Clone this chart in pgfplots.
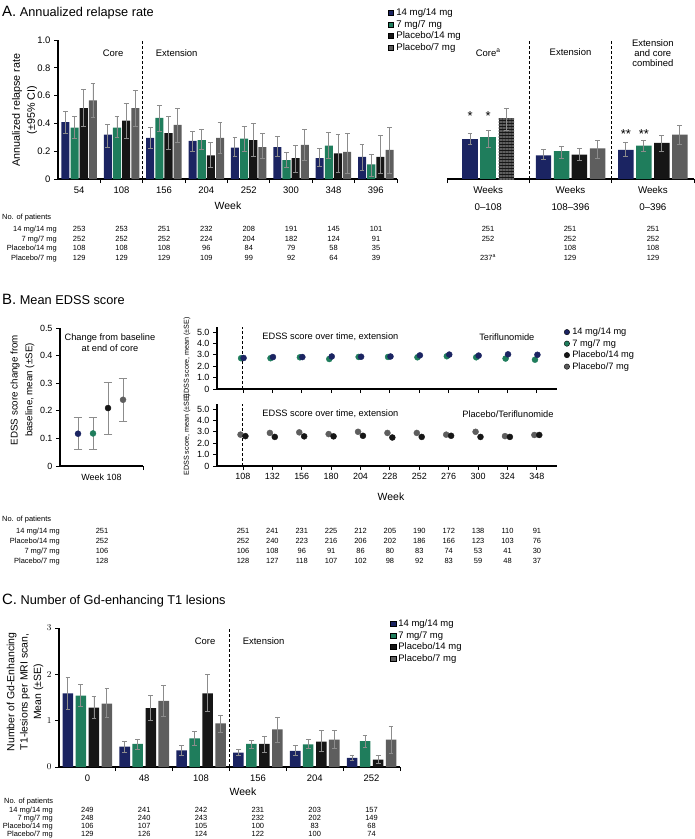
\documentclass[border=0pt]{standalone}
\usepackage{fontspec}
\setmainfont{Liberation Sans}
\usepackage{pgfplots}
\usepackage{pgfplotstable}
\pgfplotsset{compat=1.18}
\usetikzlibrary{patterns.meta}

\definecolor{c14}{HTML}{1B2462}
\definecolor{c7}{HTML}{1F7D5C}
\definecolor{cp14}{HTML}{161616}
\definecolor{cp7}{HTML}{5E5E5E}
\definecolor{errc}{HTML}{8C8C8C}

\newcommand{\fs}[1]{\fontsize{#1}{#1}\selectfont}
% one row of patient numbers: baseline y, first x, step, list
\newcommand{\trow}[4]{\foreach \v [count=\i] in {#4} {\node[anchor=base, font=\fs{7.5}, inner sep=0pt] at ({#2+#3*(\i-1)},-#1) {\v};}}

\pgfplotsset{
  base/.style={scale only axis, clip=false, tick pos=left,
    axis line style={line width=1.1pt},
    tick align=outside, major tick length=4bp, minor tick length=4bp,
    tick style={black, line width=0.9pt},
    tick label style={font=\fs{9.5}}},
  barp/.style={ybar, bar width=#1, bar shift=0pt, draw=none, forget plot,
    error bars/y dir=both, error bars/y explicit,
    error bars/error bar style={errc, line width=0.9pt},
    error bars/error mark options={errc, rotate=90, line width=0.9pt, mark size=2.4bp}},
  dot/.style={only marks, mark=*, mark size=3bp, forget plot, mark options={draw=#1, fill=#1}},
  dotp/.style={dot=#1,
    error bars/y dir=both, error bars/y explicit,
    error bars/error bar style={errc, line width=0.9pt},
    error bars/error mark options={errc, rotate=90, line width=0.9pt, mark size=4.3bp}},
  sqleg/.style={legend cell align=left,
    legend image code/.code={\fill[##1] (0bp,-2.6bp) rectangle (5.2bp,2.6bp);},
    legend style={draw=none, fill=none, inner sep=0pt, row sep=0pt, font=\fs{#1},
      nodes={inner sep=1bp, text height=7.3bp, text depth=2.2bp},
      /tikz/every odd column/.append style={column sep=1.5bp}}},
}

% A: annualized relapse rate by year (rate, CI low, CI high)
\pgfplotstableread{
x    b     bl    bh    g     gl    gh    k     kl    kh    p     pl    ph
0.5  0.41  0.33  0.485 0.37  0.29  0.45  0.51  0.38  0.645 0.565 0.44  0.69
1.5  0.32  0.23  0.39  0.37  0.30  0.45  0.42  0.29  0.54  0.51  0.38  0.635
2.5  0.295 0.22  0.37  0.44  0.34  0.53  0.33  0.21  0.45  0.39  0.26  0.505
3.5  0.275 0.20  0.345 0.28  0.21  0.36  0.17  0.08  0.26  0.295 0.185 0.405
4.5  0.225 0.16  0.30  0.29  0.20  0.375 0.28  0.16  0.40  0.23  0.15  0.33
5.5  0.23  0.16  0.305 0.135 0.08  0.19  0.15  0.05  0.24  0.245 0.13  0.355
6.5  0.15  0.09  0.22  0.24  0.15  0.335 0.185 0.05  0.32  0.195 0.04  0.325
7.5  0.16  0.06  0.25  0.105 0.02  0.18  0.16  0.04  0.31  0.21  0.04  0.37
}\arrA
% A right: core (pooled placebo), extension, combined
\pgfplotstableread{
x    b     bl    bh    g     gl    gh    k     kl    kh
0.5  0.29  0.25  0.33  0.30  0.23  0.35  0.44  0.35  0.51
}\arrCore
\pgfplotstableread{
x    b     bl    bh    g     gl    gh    k     kl    kh    p     pl    ph
1.5  0.17  0.14  0.21  0.20  0.15  0.235 0.175 0.13  0.22  0.22  0.15  0.28
2.5  0.21  0.16  0.265 0.24  0.20  0.275 0.26  0.20  0.31  0.32  0.25  0.385
}\arrExt
% B: EDSS over time
\pgfplotstableread{
w    b     g
108  2.72  2.70
132  2.80  2.70
156  2.80  2.78
180  2.85  2.63
204  2.83  2.81
228  2.85  2.81
252  2.95  2.78
276  3.02  2.87
300  2.93  2.78
324  3.04  2.67
348  3.00  2.57
}\edssT
\pgfplotstableread{
w    k     p
108  2.62  2.75
132  2.55  2.90
156  2.60  2.95
180  2.60  2.80
204  2.65  3.00
228  2.50  2.90
252  2.55  2.90
276  2.65  2.75
300  2.55  3.00
324  2.55  2.62
348  2.72  2.72
}\edssB
% C: Gd-enhancing lesions (mean, -SE, +SE)
\pgfplotstableread{
x    b     bl    bh    g     gl    gh    k     kl    kh    p     pl    ph
0.5  1.59  1.24  1.93  1.54  1.30  1.78  1.28  1.04  1.52  1.37  1.07  1.69
1.5  0.44  0.32  0.56  0.50  0.39  0.60  1.27  1.01  1.54  1.43  1.09  1.77
2.5  0.36  0.25  0.46  0.62  0.47  0.76  1.59  1.20  2.00  0.94  0.75  1.12
3.5  0.31  0.25  0.37  0.50  0.40  0.58  0.50  0.32  0.67  0.81  0.53  1.08
4.5  0.35  0.24  0.46  0.49  0.40  0.59  0.55  0.33  0.78  0.59  0.40  0.78
5.5  0.20  0.15  0.26  0.56  0.42  0.69  0.16  0.08  0.24  0.59  0.30  0.87
}\arrC

\begin{document}
\begin{tikzpicture}[x=1bp,y=1bp]
\path[use as bounding box] (0,0) rectangle (695,-839);

%% ---------------- A ----------------
\node[anchor=base west, inner sep=0pt] at (2,-16) {\fs{15}A.\fs{12.8} Annualized relapse rate};
\node[rotate=90, align=center, font=\fontsize{10.8}{15}\selectfont] at (24.5,-110) {Annualized relapse rate\\(±95\% CI)};

\begin{axis}[base, at={(58bp,-179bp)}, anchor=south west, width=339bp, height=139bp,
  axis x line*=bottom, axis y line*=left,
  xmin=0, xmax=8, ymin=0, ymax=1,
  xtick={0.5,1.5,...,7.5}, xticklabels={54,108,156,204,252,300,348,396},
  every major x tick/.append style={draw=none}, minor xtick={1,2,...,8},
  ytick={0,0.2,0.4,0.6,0.8,1}, yticklabels={0,0.2,0.4,0.6,0.8,1.0},
  sqleg=9.7, legend style={at={(0.9735,1.237)}, anchor=north west}]
\addplot[barp=0.19, fill=c14] table[x expr=\thisrow{x}-0.325, y=b, y error plus expr=\thisrow{bh}-\thisrow{b}, y error minus expr=\thisrow{b}-\thisrow{bl}] {\arrA};
\addplot[barp=0.19, fill=c7] table[x expr=\thisrow{x}-0.108, y=g, y error plus expr=\thisrow{gh}-\thisrow{g}, y error minus expr=\thisrow{g}-\thisrow{gl}] {\arrA};
\addplot[barp=0.19, fill=cp14] table[x expr=\thisrow{x}+0.108, y=k, y error plus expr=\thisrow{kh}-\thisrow{k}, y error minus expr=\thisrow{k}-\thisrow{kl}] {\arrA};
\addplot[barp=0.19, fill=cp7] table[x expr=\thisrow{x}+0.325, y=p, y error plus expr=\thisrow{ph}-\thisrow{p}, y error minus expr=\thisrow{p}-\thisrow{pl}] {\arrA};
\addlegendimage{fill=c14}\addlegendentry{14 mg/14 mg}
\addlegendimage{fill=c7}\addlegendentry{7 mg/7 mg}
\addlegendimage{fill=cp14}\addlegendentry{Placebo/14 mg}
\addlegendimage{fill=cp7}\addlegendentry{Placebo/7 mg}
\draw[line width=1pt, dash pattern=on 3bp off 2bp] (axis cs:2,0) -- (axis cs:2,1);
\node[font=\fs{9.5}] at (axis cs:1.3,0.906) {Core};
\node[font=\fs{9.5}] at (axis cs:2.8,0.906) {Extension};
\end{axis}

\begin{axis}[base, at={(447bp,-179bp)}, anchor=south west, width=247bp, height=139bp,
  axis x line*=bottom, axis y line=none, ytick=\empty,
  xmin=0, xmax=3, ymin=0, ymax=1,
  xtick={0.5,1.5,2.5}, xticklabels={{Weeks\\[7bp]0–108},{Weeks\\[7bp]108–396},{Weeks\\[7bp]0–396}},
  xticklabel style={align=center, font=\fs{9.8}},
  every major x tick/.append style={draw=none}, minor xtick={0,1,2,3}]
\addplot[barp=0.188, fill=c14] table[x expr=\thisrow{x}-0.22, y=b, y error plus expr=\thisrow{bh}-\thisrow{b}, y error minus expr=\thisrow{b}-\thisrow{bl}] {\arrCore};
\addplot[barp=0.188, fill=c7] table[x=x, y=g, y error plus expr=\thisrow{gh}-\thisrow{g}, y error minus expr=\thisrow{g}-\thisrow{gl}] {\arrCore};
\addplot[barp=0.188, fill=cp14, postaction={pattern={Lines[angle=0,distance=3bp,line width=1.3bp]}, pattern color=cp7}] table[x expr=\thisrow{x}+0.22, y=k, y error plus expr=\thisrow{kh}-\thisrow{k}, y error minus expr=\thisrow{k}-\thisrow{kl}] {\arrCore};
\addplot[barp=0.188, fill=c14] table[x expr=\thisrow{x}-0.328, y=b, y error plus expr=\thisrow{bh}-\thisrow{b}, y error minus expr=\thisrow{b}-\thisrow{bl}] {\arrExt};
\addplot[barp=0.188, fill=c7] table[x expr=\thisrow{x}-0.109, y=g, y error plus expr=\thisrow{gh}-\thisrow{g}, y error minus expr=\thisrow{g}-\thisrow{gl}] {\arrExt};
\addplot[barp=0.188, fill=cp14] table[x expr=\thisrow{x}+0.109, y=k, y error plus expr=\thisrow{kh}-\thisrow{k}, y error minus expr=\thisrow{k}-\thisrow{kl}] {\arrExt};
\addplot[barp=0.188, fill=cp7] table[x expr=\thisrow{x}+0.328, y=p, y error plus expr=\thisrow{ph}-\thisrow{p}, y error minus expr=\thisrow{p}-\thisrow{pl}] {\arrExt};
\draw[line width=1pt, dash pattern=on 3bp off 2bp] (axis cs:1,0) -- (axis cs:1,1);
\draw[line width=1pt, dash pattern=on 3bp off 2bp] (axis cs:2,0) -- (axis cs:2,1);
\node[font=\fs{9.5}] at (axis cs:0.5,0.91) {Core\textsuperscript{a}};
\node[font=\fs{9.5}] at (axis cs:1.5,0.91) {Extension};
\node[font=\fontsize{9.5}{9.8}\selectfont, align=center] at (axis cs:2.5,0.906) {Extension\\and core\\combined};
\node[anchor=base, font=\fs{13}] at (axis cs:0.28,0.42) {*};
\node[anchor=base, font=\fs{13}] at (axis cs:0.50,0.42) {*};
\node[anchor=base, font=\fs{13}] at (axis cs:2.172,0.29) {**};
\node[anchor=base, font=\fs{13}] at (axis cs:2.391,0.29) {**};
\end{axis}

\node[font=\fs{10.5}] at (228,-206) {Week};
\node[anchor=base west, font=\fs{7.5}, inner sep=0pt] at (2,-219.7) {No. of patients};
\foreach \lab [count=\r] in {14 mg/14 mg, 7 mg/7 mg, Placebo/14 mg, Placebo/7 mg}
  {\node[anchor=base east, font=\fs{7.5}, inner sep=0pt] at (57,{-222.2-9.5*\r}) {\lab};}
\trow{231.7}{79.2}{42.4}{253,253,251,232,208,191,145,101}
\trow{241.2}{79.2}{42.4}{252,252,252,224,204,182,124,91}
\trow{250.7}{79.2}{42.4}{108,108,108,96,84,79,58,35}
\trow{260.2}{79.2}{42.4}{129,129,129,109,99,92,64,39}
\trow{231.7}{488}{0}{251}
\trow{241.2}{488}{0}{252}
\trow{260.2}{488}{0}{237\textsuperscript{a}}
\trow{231.7}{570}{83}{251,251}
\trow{241.2}{570}{83}{252,252}
\trow{250.7}{570}{83}{108,108}
\trow{260.2}{570}{83}{129,129}

%% ---------------- B ----------------
\node[anchor=base west, inner sep=0pt] at (2,-304) {\fs{15}B.\fs{12.8} Mean EDSS score};
\node[rotate=90, align=center, font=\fontsize{9.8}{15}\selectfont] at (22.5,-390) {EDSS score change from\\baseline, mean (±SE)};

\begin{axis}[base, at={(60bp,-466bp)}, anchor=south west, width=83bp, height=138bp,
  axis x line*=bottom, axis y line*=left,
  xmin=-0.2, xmax=5.33, ymin=0, ymax=0.5,
  xtick={2.565}, xticklabels={Week 108}, every major x tick/.append style={draw=none},
  minor xtick={5.33},
  ytick={0,0.1,0.2,0.3,0.4,0.5}, yticklabels={0,0.1,0.2,0.3,0.4,0.5},
  tick label style={font=\fs{9}}]
\addplot[dotp=c14] coordinates {(1,0.117) += (0,0.058) -= (0,0.056)};
\addplot[dotp=c7] coordinates {(2,0.118) += (0,0.059) -= (0,0.058)};
\addplot[dotp=cp14] coordinates {(3,0.210) += (0,0.093) -= (0,0.095)};
\addplot[dotp=cp7] coordinates {(4,0.240) += (0,0.078) -= (0,0.080)};
\node[font=\fontsize{9.3}{11}\selectfont, align=center] at (axis cs:3.13,0.447) {Change from baseline\\at end of core};
\end{axis}

\node[rotate=90, font=\fs{7.2}] at (187,-358) {EDSS score, mean (±SE)};
\node[rotate=90, font=\fs{7.2}] at (187,-435) {EDSS score, mean (±SE)};

\begin{axis}[base, at={(217bp,-389bp)}, anchor=south west, width=340bp, height=61.6bp,
  axis x line*=bottom, axis y line*=left,
  xmin=86.8, xmax=364.5, ymin=0, ymax=5.4,
  xtick={108,132,...,348}, xticklabels={},
  ytick={0,1,2,3,4,5}, yticklabels={0,1.0,2.0,3.0,4.0,5.0},
  tick label style={font=\fs{9}},
  legend cell align=left,
  legend image code/.code={\fill[#1] (2.6bp,0bp) circle (2.7bp);},
  legend style={at={(1.02,1.02)}, anchor=north west, draw=none, fill=none, inner sep=0pt, row sep=0pt, font=\fs{9.3},
    nodes={inner sep=1bp, text height=7.3bp, text depth=2.2bp},
    /tikz/every odd column/.append style={column sep=1.5bp}}]
\addplot[dot=c7] table[x expr=\thisrow{w}-1.5, y=g] {\edssT};
\addplot[dot=c14] table[x expr=\thisrow{w}+0.5, y=b] {\edssT};
\addlegendimage{fill=c14}\addlegendentry{14 mg/14 mg}
\addlegendimage{fill=c7}\addlegendentry{7 mg/7 mg}
\addlegendimage{fill=cp14}\addlegendentry{Placebo/14 mg}
\addlegendimage{fill=cp7}\addlegendentry{Placebo/7 mg}
\draw[line width=1pt, dash pattern=on 3bp off 2bp] (axis cs:108,0) -- (axis cs:108,5.4);
\node[anchor=west, font=\fs{9.3}] at (axis cs:121,4.56) {EDSS score over time, extension};
\node[anchor=east, font=\fs{9.3}] at (axis cs:348.9,4.56) {Teriflunomide};
\end{axis}

\begin{axis}[base, at={(217bp,-466bp)}, anchor=south west, width=340bp, height=61.6bp,
  axis x line*=bottom, axis y line*=left,
  xmin=86.8, xmax=364.5, ymin=0, ymax=5.4,
  xtick={108,132,...,348}, xticklabels={108,132,156,180,204,228,252,276,300,324,348},
  ytick={0,1,2,3,4,5}, yticklabels={0,1.0,2.0,3.0,4.0,5.0},
  tick label style={font=\fs{9}}]
\addplot[dot=cp7] table[x expr=\thisrow{w}-2, y=p] {\edssB};
\addplot[dot=cp14] table[x expr=\thisrow{w}+2, y=k] {\edssB};
\draw[line width=1pt, dash pattern=on 3bp off 2bp] (axis cs:108,0) -- (axis cs:108,5.4);
\node[anchor=west, font=\fs{9.3}] at (axis cs:121,4.56) {EDSS score over time, extension};
\node[anchor=east, font=\fs{9.3}] at (axis cs:364.5,4.56) {Placebo/Teriflunomide};
\end{axis}

\node[font=\fs{10.5}] at (391,-497) {Week};
\node[anchor=base west, font=\fs{7.5}, inner sep=0pt] at (2,-521.7) {No. of patients};
\foreach \lab [count=\r] in {14 mg/14 mg, Placebo/14 mg, 7 mg/7 mg, Placebo/7 mg}
  {\node[anchor=base east, font=\fs{7.5}, inner sep=0pt] at (60,{-523.7-10*\r}) {\lab};}
\trow{533.7}{102}{0}{251}
\trow{543.7}{102}{0}{252}
\trow{553.7}{102}{0}{106}
\trow{563.7}{102}{0}{128}
\trow{533.7}{243}{29.39}{251,241,231,225,212,205,190,172,138,110,91}
\trow{543.7}{243}{29.39}{252,240,223,216,206,202,186,166,123,103,76}
\trow{553.7}{243}{29.39}{106,108,96,91,86,80,83,74,53,41,30}
\trow{563.7}{243}{29.39}{128,127,118,107,102,98,92,83,59,48,37}

%% ---------------- C ----------------
\node[anchor=base west, inner sep=0pt] at (2,-604) {\fs{15}C.\fs{12.8} Number of Gd-enhancing T1 lesions};
\node[rotate=90, align=center, font=\fontsize{10.5}{13.5}\selectfont] at (25,-692) {Number of Gd-Enhancing\\T1-lesions per MRI scan,\\Mean (±SE)};

\begin{axis}[base, at={(59bp,-767bp)}, anchor=south west, width=341bp, height=139bp,
  axis x line*=bottom, axis y line*=left,
  xmin=0, xmax=6, ymin=0, ymax=3,
  xtick={0.5,1.5,...,5.5}, xticklabels={0,48,108,156,204,252},
  every major x tick/.append style={draw=none}, minor xtick={1,2,...,6},
  ytick={0,1,2,3},
  sqleg=9.5, legend style={at={(0.971,1.072)}, anchor=north west}]
\addplot[barp=0.185, fill=c14] table[x expr=\thisrow{x}-0.343, y=b, y error plus expr=\thisrow{bh}-\thisrow{b}, y error minus expr=\thisrow{b}-\thisrow{bl}] {\arrC};
\addplot[barp=0.185, fill=c7] table[x expr=\thisrow{x}-0.115, y=g, y error plus expr=\thisrow{gh}-\thisrow{g}, y error minus expr=\thisrow{g}-\thisrow{gl}] {\arrC};
\addplot[barp=0.185, fill=cp14] table[x expr=\thisrow{x}+0.115, y=k, y error plus expr=\thisrow{kh}-\thisrow{k}, y error minus expr=\thisrow{k}-\thisrow{kl}] {\arrC};
\addplot[barp=0.185, fill=cp7] table[x expr=\thisrow{x}+0.343, y=p, y error plus expr=\thisrow{ph}-\thisrow{p}, y error minus expr=\thisrow{p}-\thisrow{pl}] {\arrC};
\addlegendimage{fill=c14}\addlegendentry{14 mg/14 mg}
\addlegendimage{fill=c7}\addlegendentry{7 mg/7 mg}
\addlegendimage{fill=cp14}\addlegendentry{Placebo/14 mg}
\addlegendimage{fill=cp7}\addlegendentry{Placebo/7 mg}
\draw[line width=1pt, dash pattern=on 3bp off 2bp] (axis cs:3,0) -- (axis cs:3,3);
\node[font=\fs{9.5}] at (axis cs:2.57,2.72) {Core};
\node[font=\fs{9.5}] at (axis cs:3.6,2.72) {Extension};
\end{axis}

\node[font=\fs{10.5}] at (243,-792) {Week};
\node[anchor=base west, font=\fs{7.5}, inner sep=0pt] at (4,-803.5) {No. of patients};
\foreach \lab [count=\r] in {14 mg/14 mg, 7 mg/7 mg, Placebo/14 mg, Placebo/7 mg}
  {\node[anchor=base east, font=\fs{7.5}, inner sep=0pt] at (53,{-804.5-8*\r}) {\lab};}
\trow{812.5}{87.4}{56.83}{249,241,242,231,203,157}
\trow{820.5}{87.4}{56.83}{248,240,243,232,202,149}
\trow{828.5}{87.4}{56.83}{106,107,105,100,83,68}
\trow{836.5}{87.4}{56.83}{129,126,124,122,100,74}
\end{tikzpicture}
\end{document}
